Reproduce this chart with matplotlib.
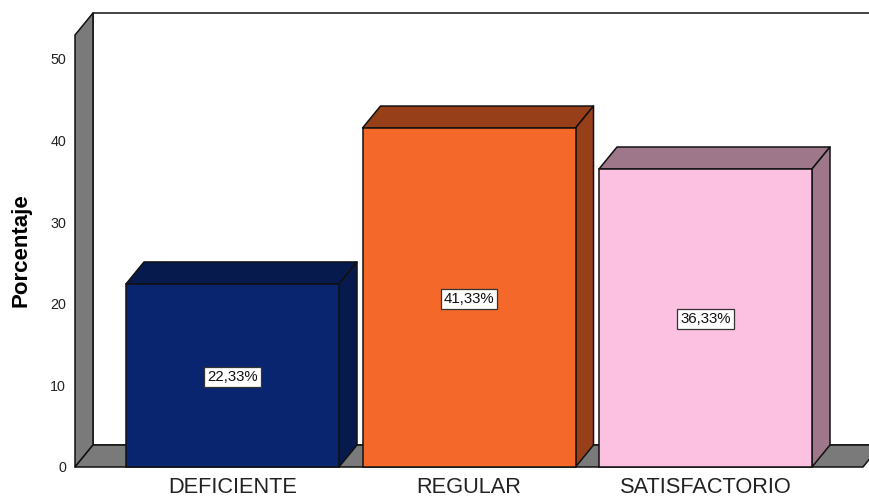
import matplotlib
matplotlib.use("Agg")
import matplotlib.pyplot as plt
from matplotlib.patches import Polygon

plt.rcParams['font.family'] = ['Liberation Sans', 'DejaVu Sans']

# values (bar tops sit a little above the printed labels)
categorias = ['DEFICIENTE', 'REGULAR', 'SATISFACTORIO']
porcentaje = [22.43, 41.54, 36.52]
etiquetas = ['22,33%', '41,33%', '36,33%']
yticks = [0, 10, 20, 30, 40, 50]

frente = ['#0A2570', '#F4682A', '#FCC0E0']
arriba = ['#071A4E', '#973F18', '#9E788A']
lado = ['#071A4E', '#973F18', '#9E788A']
gris = '#7A7A7A'

W, H = 870, 497
fig = plt.figure(figsize=(W / 100, H / 100), dpi=100)

# pixel layout of the front plane
x0, y0 = 75, 467
px_cat = 236.5
px_y = 8.16
top = 8
ax = fig.add_axes([x0 / W, (H - y0) / H, (W - x0) / W, (y0 - top) / H])
ax.set_xlim((x0 - 232.5) / px_cat, (W - 232.5) / px_cat)
ax.set_ylim(0, (y0 - top) / px_y)

# 3d depth of the box
dx = 18 / px_cat
dy = 22 / px_y
ancho = 213 / px_cat
xl = ax.get_xlim()[0]
techo = (y0 - 35) / px_y
fin = (863 - 232.5) / px_cat


def cara(puntos, color):
    ax.add_patch(Polygon(puntos, closed=True, facecolor=color, edgecolor='#111111',
                         linewidth=1.1, clip_on=False, joinstyle='round'))


# back wall, left wall and floor
cara([(xl + dx, dy), (xl + dx, techo + dy), (fin + dx + 1, techo + dy), (fin + dx + 1, dy)], 'white')
cara([(xl, 0), (xl + dx, dy), (xl + dx, techo + dy), (xl, techo)], gris)
cara([(xl, 0), (xl + dx, dy), (fin + dx, dy), (fin, 0)], gris)

for i, v in enumerate(porcentaje):
    a = i - ancho / 2
    b = i + ancho / 2
    cara([(a, v), (a + dx, v + dy), (b + dx, v + dy), (b, v)], arriba[i])
    cara([(b, 0), (b + dx, dy), (b + dx, v + dy), (b, v)], lado[i])
    ax.bar(i, v, width=ancho, color=frente[i], edgecolor='#111111', linewidth=1.1, clip_on=False, zorder=3)
    ax.annotate(etiquetas[i], (i, v / 2), xytext=(0, -1), textcoords='offset points',
                ha='center', va='center', fontsize=10.8, color='#111111', zorder=4,
                bbox=dict(facecolor='white', edgecolor='#333333', linewidth=0.9, boxstyle='square,pad=0.2'))

ax.set_xticks(range(len(categorias)))
ax.set_xticklabels(categorias, fontsize=15.7, color='#222222')
ax.set_yticks(yticks)
ax.tick_params(axis='x', length=0, pad=7)
ax.tick_params(axis='y', length=0, pad=6.5, labelsize=10.3, labelcolor='#222222')
for s in ax.spines.values():
    s.set_visible(False)

fig.text(21 / W, 1 - 250 / H, 'Porcentaje', rotation=90, ha='center', va='center', fontsize=16, fontweight='bold')

fig.savefig('out.png', dpi=100)
